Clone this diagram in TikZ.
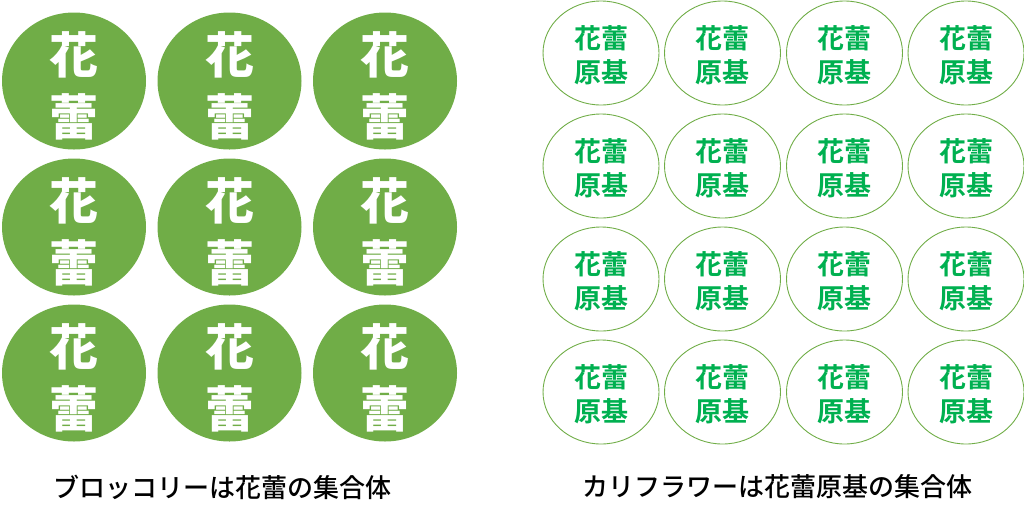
\documentclass[tikz,border=0pt]{standalone}
\usepackage{fontspec}
\usetikzlibrary{shapes.geometric}
\newfontfamily\cjk{Noto Sans CJK JP Medium}
\newfontfamily\cjkheavy{Noto Sans CJK JP Black}
\newfontfamily\cjkbold{Noto Sans CJK JP Bold}
\definecolor{leaf}{RGB}{112,173,71}
\definecolor{budtext}{RGB}{0,176,80}
\begin{document}
\begin{tikzpicture}[x=1pt,y=-1pt,
  bud/.style={ellipse, fill=leaf, minimum width=144pt, minimum height=137pt, inner sep=0pt},
  budlabel/.style={text=white, align=center, inner sep=0pt, font=\cjkheavy\fontsize{49}{62}\selectfont},
  primordium/.style={ellipse, draw=leaf, line width=0.9pt, minimum width=116pt, minimum height=104pt, inner sep=0pt},
  primlabel/.style={text=budtext, align=center, inner sep=0pt, font=\cjkbold\fontsize{27}{34}\selectfont},
  caption/.style={font=\cjk\fontsize{26}{30}\selectfont, text=black, inner sep=0pt}]
\useasboundingbox (0,0) rectangle (1024,515);
\foreach \x/\c in {74/1,229.5/2,385/3}{
  \foreach \y/\r in {81/1,227/2,373/3}{
    \node[bud] (b\r\c) at (\x,\y) {};
    \node[budlabel] (bt\r\c) at (\x,\y+5) {花\\蕾};
  }
}
\foreach \x/\c in {601/1,722.5/2,844.5/3,966/4}{
  \foreach \y/\r in {53/1,166/2,279/3,392/4}{
    \node[primordium] (p\r\c) at (\x,\y) {};
    \node[primlabel] (pt\r\c) at (\x,\y+2) {花蕾\\原基};
  }
}
\node[caption] (capL) at (222,487) {ブロッコリーは花蕾の集合体};
\node[caption] (capR) at (777,487) {カリフラワーは花蕾原基の集合体};
\end{tikzpicture}
\end{document}
